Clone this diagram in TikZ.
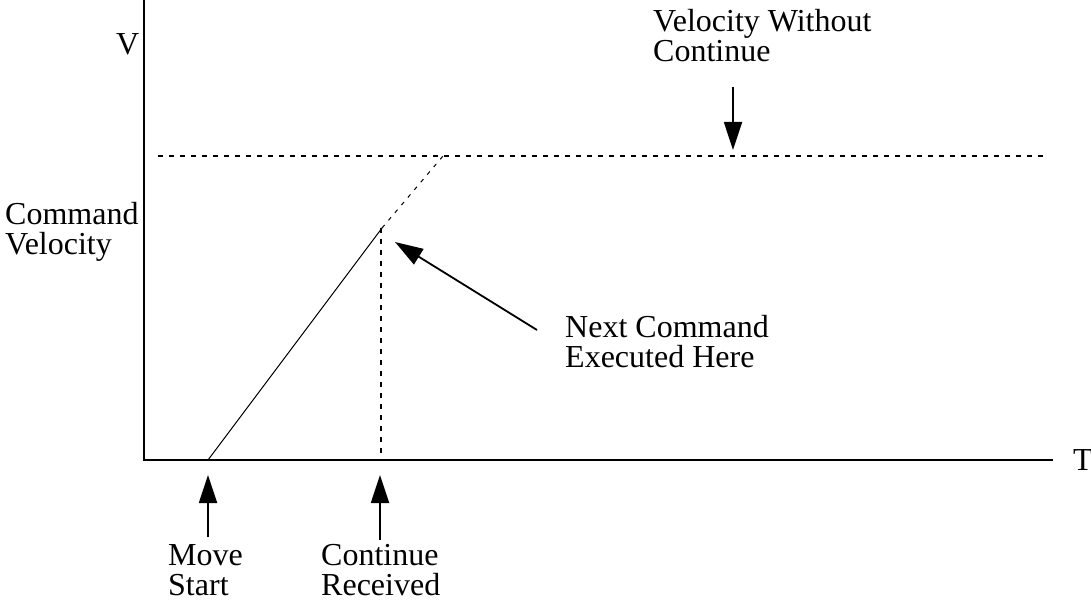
\documentclass[tikz,border=0pt]{standalone}
\usepackage{fontspec}
\setmainfont{Liberation Serif}
\usetikzlibrary{arrows.meta}
\begin{document}
\begin{tikzpicture}[x=1pt,y=-1pt,
  lbl/.style={font=\fontsize{32}{30}\selectfont, inner sep=0pt, align=left, anchor=base west},
  axisline/.style={line width=2pt},
  dashline/.style={line width=1.5pt, dash pattern=on 5pt off 6pt},
  ramp/.style={line width=1pt},
  rampdash/.style={line width=1pt, dash pattern=on 4pt off 6pt},
  ptr/.style={line width=1.8pt, -{Triangle[length=28pt,width=18pt]}},
]
\useasboundingbox (0,0) rectangle (1091,601);
% axes
\coordinate (Ytop) at (144,0);
\coordinate (O) at (144,460);
\coordinate (Xend) at (1053,460);
\draw[axisline] (Ytop) -- (O) -- (Xend);
% velocity without continue
\coordinate (Hl) at (158,156);
\coordinate (Hr) at (1047,156);
\draw[dashline] (Hl) -- (Hr);
% ramp
\coordinate (R0) at (208,460);
\coordinate (R1) at (382,228);
\coordinate (R2) at (443,156);
\draw[ramp] (R0) -- (R1);
\draw[rampdash] (R1) -- (R2);
% continue received vertical
\coordinate (Vt) at (381,228);
\coordinate (Vb) at (381,460);
\draw[dashline] (Vt) -- (Vb);
% labels (base anchor = baseline of last line)
\node[lbl] (vlab) at (116,55) {V};
\node[lbl] (tlab) at (1073,470) {T};
\node[lbl] (cmdvel) at (5,255) {Command\\Velocity};
\node[lbl] (vwc) at (653,62) {Velocity Without\\Continue};
\node[lbl] (nce) at (565,367) {Next Command\\Executed Here};
\node[lbl] (ms) at (168,595) {Move\\Start};
\node[lbl] (cr) at (321,595) {Continue\\Received};
% pointers
\coordinate (vwcT) at (733,87);
\coordinate (vwcH) at (733,150);
\draw[ptr] (vwcT) -- (vwcH);
\coordinate (nceT) at (537,330);
\coordinate (nceH) at (395,242);
\draw[ptr] (nceT) -- (nceH);
\coordinate (msT) at (208,537);
\coordinate (msH) at (208,475);
\draw[ptr] (msT) -- (msH);
\coordinate (crT) at (380,540);
\coordinate (crH) at (380,475);
\draw[ptr] (crT) -- (crH);
\end{tikzpicture}
\end{document}
